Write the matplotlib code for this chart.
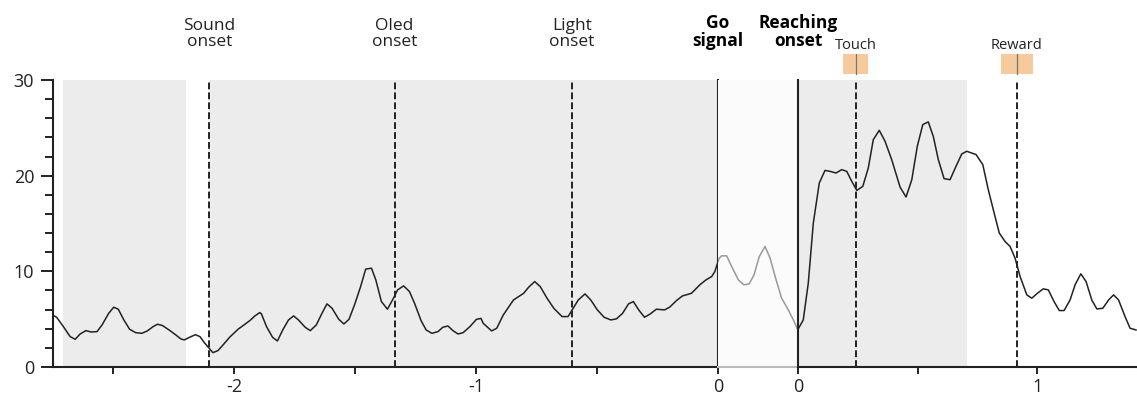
import matplotlib.pyplot as plt
from matplotlib import transforms

plt.rcParams['font.family'] = ['Open Sans', 'DejaVu Sans']

# firing rate aligned to go signal (s)
go_t = [-2.770, -2.735, -2.707, -2.679, -2.658, -2.638, -2.614, -2.592, -2.568, -2.547,
        -2.520, -2.499, -2.480, -2.457, -2.433, -2.408, -2.383, -2.360, -2.336, -2.318,
        -2.297, -2.270, -2.242, -2.221, -2.207, -2.186, -2.161, -2.142, -2.124, -2.110,
        -2.089, -2.068, -2.047, -2.020, -1.985, -1.936, -1.915, -1.895, -1.888, -1.867,
        -1.842, -1.822, -1.800, -1.776, -1.755, -1.735, -1.707, -1.686, -1.661, -1.638,
        -1.617, -1.596, -1.568, -1.547, -1.526, -1.503, -1.478, -1.457, -1.433, -1.415,
        -1.392, -1.367, -1.342, -1.325, -1.300, -1.276, -1.255, -1.228, -1.207, -1.183,
        -1.158, -1.138, -1.117, -1.096, -1.075, -1.054, -1.026, -0.999, -0.980, -0.971,
        -0.936, -0.915, -0.888, -0.846, -0.804, -0.783, -0.758, -0.735, -0.707, -0.679,
        -0.645, -0.620, -0.603, -0.578, -0.550, -0.526, -0.499, -0.471, -0.443, -0.420,
        -0.395, -0.370, -0.350, -0.328, -0.304, -0.280, -0.255, -0.221, -0.200, -0.172,
        -0.147, -0.110, -0.075, -0.050, -0.026, -0.013, 0.0]
go_rate = [5.69, 5.2, 4.22, 3.17, 2.9, 3.45, 3.8, 3.66, 3.7, 4.4,
           5.6, 6.25, 6.04, 4.92, 3.94, 3.59, 3.52, 3.77, 4.22, 4.47,
           4.33, 3.87, 3.35, 2.93, 2.83, 3.1, 3.38, 3.17, 2.54, 2.13,
           1.5, 1.71, 2.3, 3.1, 3.94, 4.85, 5.34, 5.69, 5.55, 4.22,
           3.1, 2.72, 3.87, 4.92, 5.34, 4.92, 4.15, 3.8, 4.4, 5.6,
           6.6, 6.14, 4.98, 4.5, 4.98, 6.5, 8.4, 10.23, 10.33, 9.1,
           6.84, 6.04, 7.19, 8.06, 8.48, 7.89, 6.67, 4.85, 3.87, 3.52,
           3.7, 4.15, 4.29, 3.8, 3.45, 3.59, 4.22, 4.98, 5.08, 4.57,
           3.77, 4.05, 5.44, 7.0, 7.7, 8.34, 8.93, 8.4, 7.19, 6.14,
           5.27, 5.27, 5.97, 7.0, 7.64, 7.0, 5.97, 5.2, 4.92, 5.03,
           5.6, 6.6, 6.84, 5.97, 5.2, 5.55, 6.04, 5.97, 6.25, 6.94,
           7.43, 7.7, 8.59, 9.1, 9.46, 9.98, 11.0]

# between go signal and reaching onset (s after go)
mid_t = [0.0, 0.005, 0.015, 0.036, 0.057, 0.085, 0.108, 0.130, 0.150, 0.172,
         0.196, 0.217, 0.238, 0.265, 0.293, 0.314, 0.333]
mid_rate = [11.0, 11.38, 11.62, 11.62, 10.5, 9.1, 8.59, 8.69, 9.63, 11.55,
            12.6, 11.38, 9.46, 7.19, 5.97, 4.92, 3.87]

# aligned to reaching onset (s)
reach_t = [0.0, 0.022, 0.043, 0.064, 0.089, 0.113, 0.134, 0.159, 0.183, 0.204,
           0.225, 0.246, 0.271, 0.294, 0.315, 0.340, 0.364, 0.392, 0.427, 0.452,
           0.476, 0.499, 0.522, 0.545, 0.566, 0.587, 0.611, 0.636, 0.661, 0.685,
           0.706, 0.745, 0.773, 0.796, 0.824, 0.842, 0.866, 0.887, 0.908, 0.929,
           0.957, 0.978, 1.001, 1.026, 1.047, 1.071, 1.093, 1.113, 1.138, 1.159,
           1.183, 1.205, 1.229, 1.250, 1.275, 1.299, 1.320, 1.341, 1.368, 1.389, 1.414]
reach_rate = [3.94, 4.92, 8.76, 15.04, 19.23, 20.55, 20.45, 20.28, 20.63, 20.45,
              19.4, 18.46, 18.88, 20.8, 23.77, 24.74, 23.6, 21.67, 18.8, 17.77,
              19.58, 23.07, 25.34, 25.62, 24.1, 21.67, 19.69, 19.58, 20.98, 22.27,
              22.55, 22.2, 21.15, 18.53, 15.74, 14.0, 13.12, 12.6, 11.38, 9.46,
              7.54, 7.19, 7.7, 8.17, 8.06, 6.84, 5.9, 5.9, 7.0, 8.59,
              9.74, 8.93, 7.0, 6.07, 6.14, 7.0, 7.54, 7.0, 5.27, 4.05, 3.87]

go_events = [(-2.104, 'Sound\nonset'), (-1.3375, 'Oled\nonset'), (-0.604, 'Light\nonset')]
reach_events = [(0.243, 'Touch', 0.188, 0.293), (0.916, 'Reward', 0.849, 0.983)]
go_bands = [(-2.71, -2.2), (-2.104, 0.0)]
reach_bands = [(0.0, 0.705)]

grey = '#ececec'
dark = '#222222'
orange = '#f8c99b'
dash = (0, (3.5, 1.6))

fig = plt.figure(figsize=(11.37, 4), dpi=100)
bottom, height = 0.0825, 0.7175
ax1 = fig.add_axes([53 / 1137, bottom, 665 / 1137, height])
ax2 = fig.add_axes([718 / 1137, bottom, 80 / 1137, height])
ax3 = fig.add_axes([798 / 1137, bottom, 339 / 1137, height])

for ax in (ax1, ax2, ax3):
    ax.set_ylim(0, 30)
    for s in ('top', 'right'):
        ax.spines[s].set_visible(False)
    ax.spines['bottom'].set_linewidth(1.5)
    ax.spines['bottom'].set_color(dark)
    ax.tick_params(axis='x', direction='out', length=5, width=1.4, color=dark,
                   labelsize=13, pad=3, labelcolor=dark)

ax1.set_xlim(-2.75, 0)
ax2.set_xlim(0, 1 / 3)
ax3.set_xlim(0, 1.418)

# left panel
for a, b in go_bands:
    ax1.axvspan(a, b, ymin=0, ymax=1, color=grey, lw=0, zorder=0)
ax1.plot(go_t, go_rate, color=dark, lw=1.1, zorder=3)
ax1.spines['left'].set_linewidth(1.5)
ax1.spines['left'].set_color(dark)
ax1.set_yticks([0, 10, 20, 30])
ax1.set_yticks(range(2, 30, 2), minor=True)
ax1.tick_params(axis='y', which='major', direction='out', length=8.5, width=1.4,
                color=dark, labelsize=13, pad=5, labelcolor=dark)
ax1.tick_params(axis='y', which='minor', direction='out', length=6, width=1.4, color=dark)
ax1.set_xticks([-2.5, -2, -1.5, -1, -0.5, 0])
ax1.set_xticklabels(['', '-2', '', '-1', '', '0'])
ax1.axvline(0, color=dark, lw=1.5, clip_on=False, zorder=4)

tr1 = transforms.blended_transform_factory(ax1.transData, ax1.transAxes)
for x, lab in go_events:
    ax1.axvline(x, color=dark, lw=1.4, ls=dash, zorder=2)
    ax1.text(x, 1.105, lab, transform=tr1, ha='center', va='bottom',
             fontsize=12.5, linespacing=1.0, color=dark)
ax1.text(0, 1.105, 'Go\nsignal', transform=tr1, ha='center', va='bottom',
         fontsize=12.5, linespacing=1.0, fontweight='bold', color='black')

# middle panel
ax2.set_facecolor('#fbfbfb')
ax2.plot(mid_t, mid_rate, color='#999999', lw=1.1, zorder=3)
ax2.spines['left'].set_visible(False)
ax2.spines['bottom'].set_color('#bbbbbb')
ax2.set_yticks([])
ax2.set_xticks([])

# right panel
for a, b in reach_bands:
    ax3.axvspan(a, b, color=grey, lw=0, zorder=0)
ax3.plot(reach_t, reach_rate, color=dark, lw=1.1, zorder=3)
ax3.spines['left'].set_visible(False)
ax3.set_yticks([])
ax3.set_xticks([0, 0.5, 1])
ax3.set_xticklabels(['0', '', '1'])
ax3.axvline(0, color=dark, lw=1.5, clip_on=False, zorder=4)

tr3 = transforms.blended_transform_factory(ax3.transData, ax3.transAxes)
ax3.text(0, 1.105, 'Reaching\nonset', transform=tr3, ha='center', va='bottom',
         fontsize=12.5, linespacing=1.0, fontweight='bold', color='black')
for x, lab, a, b in reach_events:
    ax3.axvline(x, color=dark, lw=1.4, ls=dash, zorder=2)
    ax3.add_patch(plt.Rectangle((a, 1.021), b - a, 0.07, transform=tr3,
                                facecolor=orange, edgecolor='none', clip_on=False))
    ax3.plot([x, x], [1.021, 1.091], transform=tr3, color='#777777', lw=0.9,
             clip_on=False)
    ax3.text(x, 1.108, lab, transform=tr3, ha='center', va='baseline',
             fontsize=10.5, color=dark)

fig.savefig('out.png', dpi=100)
